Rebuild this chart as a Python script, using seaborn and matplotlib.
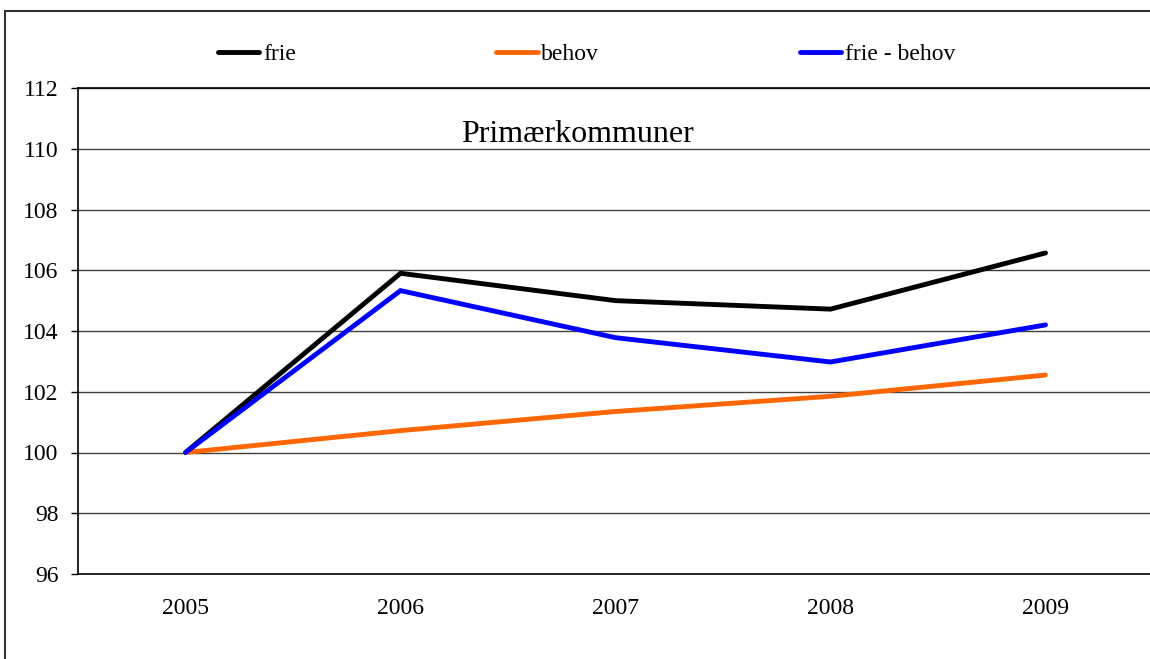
import numpy as np
import pandas as pd
import matplotlib
matplotlib.use("Agg")
import matplotlib.pyplot as plt
from matplotlib.patches import Rectangle
import seaborn as sns

years = ["2005", "2006", "2007", "2008", "2009"]
frie = [100.0, 105.9, 105.0, 104.72, 106.57]
behov = [100.0, 100.72, 101.35, 101.85, 102.55]
frie_minus_behov = [100.0, 105.33, 103.78, 102.98, 104.2]
series_names = ["frie", "behov", "frie - behov"]
colors = {"frie": "#000000", "behov": "#FF6600", "frie - behov": "#0000FF"}
yticks = [96, 98, 100, 102, 104, 106, 108, 110, 112]
title = "Primærkommuner"

rows = []
for name, vals in zip(series_names, [frie, behov, frie_minus_behov]):
    for i, v in enumerate(vals):
        rows.append({"x": i, "value": v, "series": name})
df = pd.DataFrame(rows)

sns.set_style("white")
plt.rcParams["font.family"] = ["Liberation Serif", "DejaVu Serif"]
plt.rcParams["text.color"] = "black"
plt.rcParams["xtick.color"] = "black"
plt.rcParams["ytick.color"] = "black"

fig = plt.figure(figsize=(11.5, 6.59), dpi=100)
ax = fig.add_axes([78 / 1150, 1 - 574 / 659, 1075 / 1150, 486 / 659])

sns.lineplot(data=df, x="x", y="value", hue="series", hue_order=series_names,
             palette=colors, linewidth=3.5, ax=ax, sort=False,
             solid_capstyle="round", solid_joinstyle="miter")

ax.set_xlim(-0.5, len(years) - 0.5)
ax.set_ylim(96, 112)
ax.set_yticks(yticks)
ax.set_yticklabels([str(t) for t in yticks], fontsize=17, color="black")
ax.set_xticks(range(len(years)))
ax.set_xticklabels(years, fontsize=17, color="black")
ax.set_xticks(np.arange(-0.5, len(years), 1.0), minor=True)
ax.tick_params(axis="x", which="major", length=0, pad=17)
ax.tick_params(axis="x", which="minor", length=6, width=1, color="black", direction="out")
ax.tick_params(axis="y", which="major", length=5, width=1, color="black", direction="out", pad=9, left=True)
ax.set_xlabel("")
ax.set_ylabel("")

ax.grid(axis="y", color="#404040", linewidth=1)
ax.set_axisbelow(True)
for s in ["left", "bottom", "top"]:
    ax.spines[s].set_color("black")
    ax.spines[s].set_linewidth(1.2)
ax.spines["right"].set_visible(False)

ax.text(0.465, 0.905, title, transform=ax.transAxes, ha="center", va="center",
        fontsize=23, color="black")

handles, labels = ax.get_legend_handles_labels()
leg = ax.legend(handles, labels, ncol=3, loc="center", bbox_to_anchor=(0.51, 0.918),
                bbox_transform=fig.transFigure, frameon=False, fontsize=17,
                handlelength=1.75, handletextpad=0.15, columnspacing=8.5)
for t in leg.get_texts():
    t.set_color("black")

fig.patches.append(Rectangle((5 / 1150, -0.2), 1.2, 0.2 + 1 - 11 / 659,
                             transform=fig.transFigure, fill=False,
                             edgecolor="#333333", linewidth=1.5))

fig.savefig("out.png", dpi=100)
